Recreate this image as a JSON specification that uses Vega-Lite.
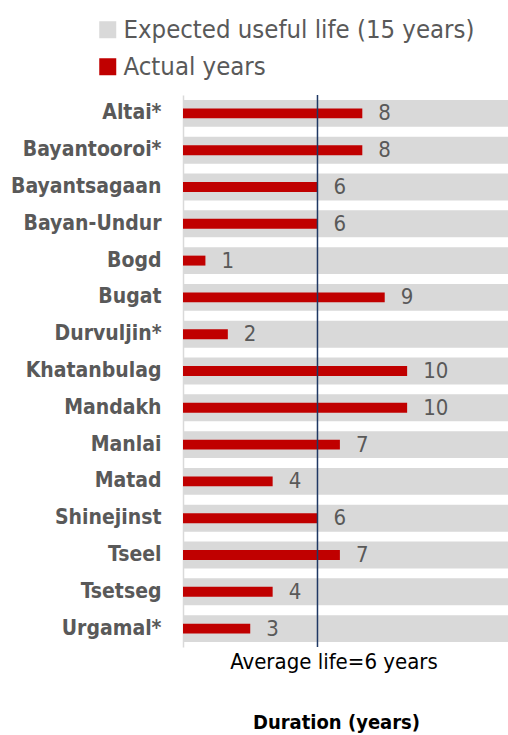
{
  "$schema": "https://vega.github.io/schema/vega-lite/v6.json",
  "autosize": "none",
  "padding": {"left": 183, "top": 95, "right": 0, "bottom": 88},
  "width": 325,
  "height": 552,
  "background": "white",
  "config": {
    "view": {"stroke": null},
    "font": "'Liberation Sans Narrow', 'DejaVu Sans Condensed', 'Liberation Sans', sans-serif"
  },
  "data": {
    "values": [
      {"place": "Altai*", "actual": 8, "expected": 15},
      {"place": "Bayantooroi*", "actual": 8, "expected": 15},
      {"place": "Bayantsagaan", "actual": 6, "expected": 15},
      {"place": "Bayan-Undur", "actual": 6, "expected": 15},
      {"place": "Bogd", "actual": 1, "expected": 15},
      {"place": "Bugat", "actual": 9, "expected": 15},
      {"place": "Durvuljin*", "actual": 2, "expected": 15},
      {"place": "Khatanbulag", "actual": 10, "expected": 15},
      {"place": "Mandakh", "actual": 10, "expected": 15},
      {"place": "Manlai", "actual": 7, "expected": 15},
      {"place": "Matad", "actual": 4, "expected": 15},
      {"place": "Shinejinst", "actual": 6, "expected": 15},
      {"place": "Tseel", "actual": 7, "expected": 15},
      {"place": "Tsetseg", "actual": 4, "expected": 15},
      {"place": "Urgamal*", "actual": 3, "expected": 15}
    ]
  },
  "layer": [
    {
      "mark": {"type": "bar", "height": {"band": 0.73}, "clip": true},
      "encoding": {
        "y": {
          "field": "place",
          "type": "nominal",
          "sort": null,
          "scale": {"paddingInner": 0, "paddingOuter": 0},
          "axis": {
            "title": null,
            "ticks": false,
            "domainColor": "#d9d9d9",
            "domainWidth": 1.5,
            "labelFontSize": 21,
            "labelFontWeight": "bold",
            "labelColor": "#595959",
            "labelPadding": 22
          }
        },
        "x": {
          "field": "expected",
          "type": "quantitative",
          "scale": {"domain": [0, 14.5], "nice": false},
          "axis": {
            "values": [6],
            "labelExpr": "'Average life=6 years'",
            "labelOffset": 16,
            "labelFontSize": 22,
            "labelColor": "#000000",
            "labelPadding": 4,
            "labelLimit": 400,
            "labelOverlap": false,
            "labelFlush": false,
            "ticks": false,
            "domain": false,
            "grid": false,
            "title": "Duration (years)",
            "titleFontSize": 20,
            "titleFontWeight": "bold",
            "titleColor": "#000000",
            "titlePadding": 40,
            "titleX": 153,
            "titleAlign": "center"
          }
        },
        "color": {
          "datum": "Expected useful life (15 years)",
          "type": "nominal",
          "scale": {
            "domain": ["Expected useful life (15 years)", "Actual years"],
            "range": ["#d9d9d9", "#c00000"]
          },
          "legend": {
            "title": null,
            "orient": "none",
            "legendX": -88,
            "legendY": -78,
            "symbolType": "square",
            "symbolSize": 289,
            "symbolStrokeWidth": 0,
            "labelFontSize": 25.5,
            "labelColor": "#595959",
            "labelOffset": 3,
            "rowPadding": 10,
            "labelLimit": 500
          }
        }
      }
    },
    {
      "mark": {"type": "bar", "height": {"band": 0.27}},
      "encoding": {
        "y": {"field": "place", "type": "nominal", "sort": null},
        "x": {"field": "actual", "type": "quantitative"},
        "color": {"datum": "Actual years", "type": "nominal"}
      }
    },
    {
      "mark": {"type": "text", "align": "left", "baseline": "middle", "dx": 16, "fontSize": 22, "color": "#595959"},
      "encoding": {
        "y": {"field": "place", "type": "nominal", "sort": null},
        "x": {"field": "actual", "type": "quantitative"},
        "text": {"field": "actual", "type": "quantitative"}
      }
    },
    {
      "data": {"values": [{"avg": 6}]},
      "mark": {"type": "rule", "color": "#1f3864", "strokeWidth": 1.5},
      "encoding": {
        "x": {"field": "avg", "type": "quantitative"}
      }
    }
  ]
}
